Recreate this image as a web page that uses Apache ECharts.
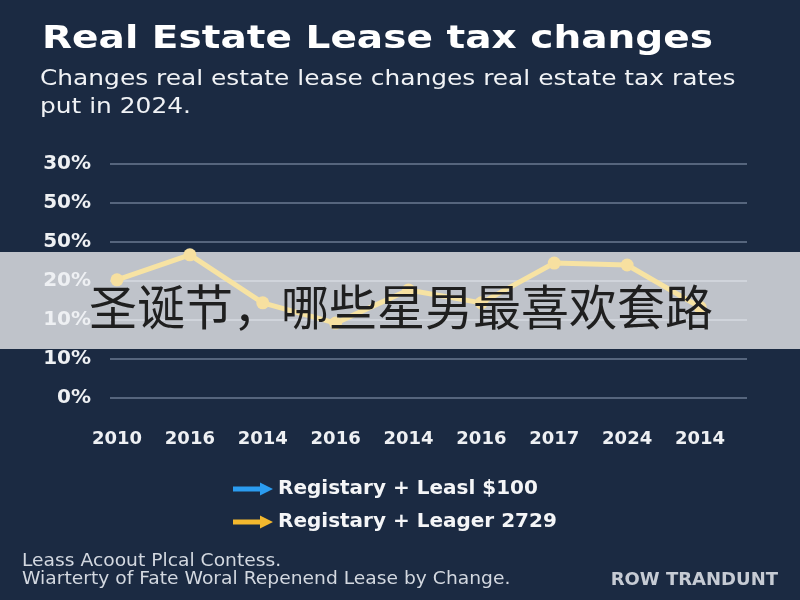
<!DOCTYPE html>
<html><head><meta charset="utf-8">
<script src="https://cdn.jsdelivr.net/npm/echarts@6/dist/echarts.min.js"></script>
<style>html,body{margin:0;padding:0;background:#1b2a42}#c{width:800px;height:600px}</style>
</head><body><div id="c"></div>
<script>
const categories = ['2010','2016','2014','2016','2014','2016','2017','2024','2014'];
const leagerValues = [30.3, 36.7, 24.4, 19.2, 27.7, 24.4, 34.6, 34.1, 23.3];
const leaslValues = [];
const yTickLabels = ['0%','10%','10%','20%','50%','50%','30%'];
const seriesNames = ['Registary + Leasl $100','Registary + Leager 2729'];
const legendColors = ['#2b9cf0','#f3b82e'];
const titleText = 'Real Estate Lease tax changes';
const subtitleLines = ['Changes real estate lease changes real estate tax rates','put in 2024.'];
const overlayText = '圣诞节，哪些星男最喜欢套路';
const footerLines = ['Leass Acoout Plcal Contess.','Wiarterty of Fate Woral Repenend Lease by Change.'];
const footerRight = 'ROW TRANDUNT';

const chart = echarts.init(document.getElementById('c'), null, {renderer:'canvas'});
const arrow = 'path://M0,4 L27,4 L27,0 L40,6.5 L27,13 L27,9 L0,9 Z';
const font = '"DejaVu Sans", sans-serif';
chart.setOption({
  backgroundColor: '#1b2a42',
  animation: false,
  grid: [
    {left:110, right:53, top:164, bottom:202},
    {left:117, right:100, top:164, bottom:202}
  ],
  xAxis: [
    {type:'category', gridIndex:0, show:false, data:categories},
    {type:'category', gridIndex:1, data:categories, boundaryGap:false,
     axisLine:{show:false}, axisTick:{show:false}, splitLine:{show:false},
     axisLabel:{color:'#eef0f3', fontFamily:font, fontWeight:'bold', fontSize:18, margin:32}}
  ],
  yAxis: [
    {type:'value', gridIndex:0, min:0, max:60, interval:10, z:0,
     axisLine:{show:false}, axisTick:{show:false}, axisLabel:{show:false},
     splitLine:{lineStyle:{color:'#56657d', width:2}}},
    {type:'value', gridIndex:1, min:0, max:60, interval:10, z:4,
     axisLine:{show:false}, axisTick:{show:false}, splitLine:{show:false},
     axisLabel:{color:'#eef0f3', fontFamily:font, fontWeight:'bold', fontSize:20, margin:26,
       formatter: v => yTickLabels[Math.round(v/10)]}}
  ],
  legend: {
    orient:'vertical', left:228, top:474, itemWidth:40, itemHeight:13, itemGap:13,
    icon: arrow,
    data: seriesNames.map((n,i)=>({name:n, itemStyle:{color:legendColors[i]}})),
    textStyle:{color:'#f4f5f7', fontFamily:font, fontWeight:'bold', fontSize:20}
  },
  series: [
    {name:seriesNames[0], type:'line', xAxisIndex:1, yAxisIndex:1, data:leaslValues,
     color:legendColors[0], z:3},
    {name:seriesNames[1], type:'line', xAxisIndex:1, yAxisIndex:1, data:leagerValues, z:3,
     symbol:'circle', symbolSize:13,
     lineStyle:{color:'#f7e3a3', width:5},
     itemStyle:{color:'#f7e0a0'}}
  ],
  graphic: [
    {type:'rect', z:1, shape:{x:0, y:252, width:800, height:97}, style:{fill:'rgba(255,255,255,0.72)'}},
    {type:'text', z:10, x:89, y:307, style:{text:overlayText, font:'48px "Noto Sans CJK SC"', fill:'#1f1f1f', textAlign:'left', textVerticalAlign:'middle'}},
    {type:'text', z:5, x:42, y:40, scaleX:1.22, style:{text:titleText, font:'bold 32px "DejaVu Sans"', fill:'#ffffff', textAlign:'left', textVerticalAlign:'middle'}},
    {type:'text', z:5, x:40, y:79, scaleX:1.13, style:{text:subtitleLines[0], font:'22px "DejaVu Sans"', fill:'#f0f2f5', textAlign:'left', textVerticalAlign:'middle'}},
    {type:'text', z:5, x:40, y:107, scaleX:1.13, style:{text:subtitleLines[1], font:'22px "DejaVu Sans"', fill:'#f0f2f5', textAlign:'left', textVerticalAlign:'middle'}},
    {type:'text', z:5, x:22, y:562, scaleX:1.1, style:{text:footerLines[0], font:'17px "DejaVu Sans"', fill:'#d3d8e0', textAlign:'left', textVerticalAlign:'middle'}},
    {type:'text', z:5, x:22, y:580, scaleX:1.1, style:{text:footerLines[1], font:'17px "DejaVu Sans"', fill:'#d3d8e0', textAlign:'left', textVerticalAlign:'middle'}},
    {type:'text', z:5, x:778, y:580, style:{text:footerRight, font:'bold 18px "DejaVu Sans"', fill:'#c6cbd4', textAlign:'right', textVerticalAlign:'middle'}}
  ]
});
</script></body></html>
